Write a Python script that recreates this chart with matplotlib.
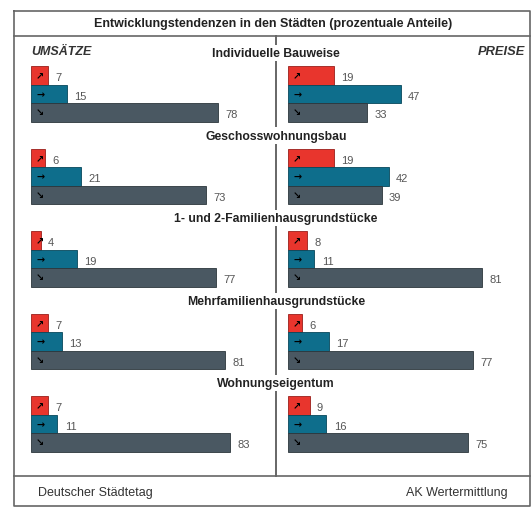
import matplotlib
matplotlib.use('Agg')
import matplotlib.pyplot as plt
import matplotlib.transforms as mtransforms

plt.rcParams['font.family'] = ['Liberation Sans', 'DejaVu Sans']

# Daten
gruppen = ["Individuelle Bauweise", "Geschosswohnungsbau",
           "1- und 2-Familienhausgrundstücke", "Mehrfamilienhausgrundstücke",
           "Wohnungseigentum"]
umsaetze_steigend = [7, 6, 4, 7, 7]
umsaetze_gleich = [15, 21, 19, 13, 11]
umsaetze_fallend = [78, 73, 77, 81, 83]
preise_steigend = [19, 19, 8, 6, 9]
preise_gleich = [47, 42, 11, 17, 16]
preise_fallend = [33, 39, 81, 77, 75]

farben = ['#e8352d', '#0e6e8c', '#4a5862']
kanten = ['#9a1f1a', '#07475b', '#2c363c']
pfeile = ['\u2197', '\u2192', '\u2198']

W, H = 531, 510
fig = plt.figure(figsize=(W / 100, H / 100), dpi=100)

# Rahmen / Hintergrund in Pixelkoordinaten
bg = fig.add_axes([0, 0, 1, 1])
bg.set_xlim(0, W)
bg.set_ylim(H, 0)
bg.axis('off')
lc = '#666666'
bg.plot([14, 530, 530, 14, 14], [12, 12, 507, 507, 12], color=lc, lw=1.2)
bg.plot([14, 530], [37, 37], color=lc, lw=1.2)
bg.plot([14, 530], [477, 477], color=lc, lw=1.2)
bg.plot([276, 276], [37, 477], color=lc, lw=1.4, zorder=1)

bg.text(273, 24, "Entwicklungstendenzen in den Städten (prozentuale Anteile)",
        ha='center', va='center', fontsize=9, fontweight='bold', color='#222222')
bg.text(31, 52, "UMSÄTZE", ha='left', va='center', fontsize=9,
        fontweight='bold', fontstyle='italic', color='#333333')
bg.text(525, 52, "PREISE", ha='right', va='center', fontsize=9.3,
        fontweight='bold', fontstyle='italic', color='#333333')
bg.text(38, 493, "Deutscher Städtetag", ha='left', va='center', fontsize=9, color='#333333')
bg.text(508, 493, "AK Wertermittlung", ha='right', va='center', fontsize=9, color='#333333')

# Panels
abstand = 4.46
zeile = 18.5
top_px, bot_px = 60, 470
y_top = -(76.25 - top_px) / zeile
y_bot = y_top + (bot_px - top_px) / zeile


def panel(x0_px, werte):
    ax = fig.add_axes([x0_px / W, 1 - bot_px / H, 240 / W, (bot_px - top_px) / H])
    ax.set_xlim(0, 100)
    ax.set_ylim(y_bot, y_top)
    ax.axis('off')
    for k, serie in enumerate(werte):
        ys = [g * abstand + k for g in range(len(serie))]
        ax.barh(ys, serie, height=1.0, color=farben[k], edgecolor=kanten[k], lw=0.6)
        for y, v in zip(ys, serie):
            ax.text(v + 3, y + 0.1, str(v), ha='left', va='center', fontsize=8, color='#555555')
            ax.text(3.8, y, pfeile[k], ha='center', va='center', fontsize=7,
                    fontweight='bold', color='black', family='DejaVu Sans')
    return ax


axL = panel(31, [umsaetze_steigend, umsaetze_gleich, umsaetze_fallend])
axR = panel(288, [preise_steigend, preise_gleich, preise_fallend])

trans = mtransforms.blended_transform_factory(fig.transFigure, axL.transData)
for g, name in enumerate(gruppen):
    fig.text(276 / W, g * abstand - 1.2, name, transform=trans, ha='center', va='center',
             fontsize=8.8, fontweight='bold', color='#222222',
             bbox=dict(facecolor='white', edgecolor='none', pad=1.5))

fig.savefig('out.png', dpi=100)
